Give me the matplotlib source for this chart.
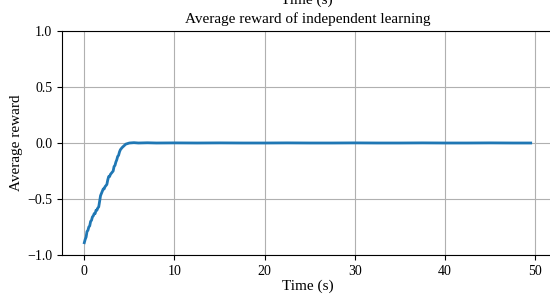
import matplotlib
matplotlib.use("Agg")
import matplotlib.pyplot as plt

plt.rcParams['font.family'] = ['Liberation Serif', 'DejaVu Serif']
plt.rcParams['mathtext.fontset'] = 'stix'

# values
time_s = [0.0, 0.1, 0.2, 0.3, 0.4, 0.5, 0.6, 0.7, 0.8, 0.9,
          1.0, 1.1, 1.2, 1.3, 1.4, 1.5, 1.6, 1.7, 1.8, 1.9,
          2.0, 2.1, 2.2, 2.3, 2.4, 2.5, 2.6, 2.7, 2.8, 2.9,
          3.0, 3.1, 3.2, 3.3, 3.4, 3.5, 3.6, 3.7, 3.8, 3.9,
          4.0, 4.2, 4.4, 4.6, 4.8, 5.0, 5.5, 6.0, 7.0, 8.0,
          10.0, 12.5, 15.0, 17.5, 20.0, 22.5, 25.0, 27.5, 30.0, 32.5,
          35.0, 37.5, 40.0, 42.5, 45.0, 47.5, 49.5]
avg_reward = [-0.89, -0.86, -0.84, -0.79, -0.78, -0.75, -0.74, -0.70, -0.69, -0.66,
              -0.65, -0.63, -0.63, -0.60, -0.60, -0.58, -0.57, -0.52, -0.47, -0.45,
              -0.43, -0.41, -0.41, -0.39, -0.38, -0.37, -0.33, -0.30, -0.30, -0.28,
              -0.27, -0.26, -0.25, -0.21, -0.20, -0.17, -0.15, -0.12, -0.11, -0.08,
              -0.06, -0.04, -0.025, -0.01, -0.005, 0.0, 0.003, 0.0, 0.002, 0.0,
              0.001, 0.0, 0.001, 0.0, 0.0, 0.001, 0.0, 0.0, 0.001, 0.0,
              0.0, 0.001, 0.0, 0.0, 0.001, 0.0, 0.0]

fig = plt.figure(figsize=(5.5, 2.97), dpi=100)
ax = fig.add_axes([0.1127, 0.1414, 0.8928, 0.7542])

ax.plot(time_s, avg_reward, color='#1f77b4', linewidth=2.0)
ax.set_ylim(-1.0, 1.0)
ax.set_yticks([-1.0, -0.5, 0.0, 0.5, 1.0])
ax.set_xticks([0, 10, 20, 30, 40, 50])
ax.grid(True, color='#b0b0b0', linewidth=0.8)
ax.tick_params(labelsize=10)

ax.set_xlabel('Time (s)', fontsize=11, labelpad=1)
ax.set_ylabel('Average reward', fontsize=11, labelpad=3)
ax.set_title('Average reward of independent learning', fontsize=11, pad=6)

# x label of the panel above, cut off by the crop
fig.text(0.5582, 0.998, 'Time (s)', fontsize=11, ha='center', va='center')

fig.savefig('out.png', dpi=100)
